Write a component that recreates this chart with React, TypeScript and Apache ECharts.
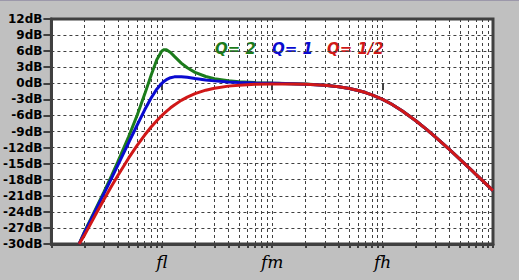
import { useEffect, useRef } from 'react';
import * as echarts from 'echarts';

// Frequencies (Hz) of the sampled points; fl = 100, fm = 1000, fh = 10000
const freqs = [17.8, 20, 25, 30, 35, 40, 50, 60, 70, 80, 90, 100, 105, 110, 120, 130, 150, 170, 200, 250, 300, 400, 500, 700, 1000, 1500, 2000, 3000, 4000, 5000, 6000, 7000, 8000, 10000, 12000, 15000, 20000, 25000, 30000, 40000, 50000, 60000, 70000, 80000, 100000];

// Gain (dB) for each Q
const gainQ2 = [-30, -27.65, -23.6, -20.21, -17.27, -14.64, -10.0, -5.86, -2.02, 1.51, 4.39, 6.02, 6.28, 6.26, 5.74, 5.02, 3.77, 2.89, 2.04, 1.27, 0.87, 0.48, 0.31, 0.14, 0.04, -0.07, -0.15, -0.35, -0.63, -0.96, -1.34, -1.73, -2.15, -3.0, -3.87, -5.12, -6.99, -8.6, -10.0, -12.3, -14.15, -15.68, -17.0, -18.13, -20.04];
const gainQ1 = [-30, -27.79, -23.82, -20.54, -17.74, -15.29, -11.14, -7.74, -4.95, -2.74, -1.1, 0, 0.38, 0.67, 1.04, 1.2, 1.23, 1.11, 0.9, 0.63, 0.45, 0.26, 0.16, 0.07, 0, -0.08, -0.16, -0.36, -0.64, -0.97, -1.34, -1.73, -2.15, -3.01, -3.87, -5.12, -6.99, -8.6, -10.0, -12.3, -14.15, -15.68, -17.0, -18.13, -20.04];
const gainQhalf = [-30, -28.3, -24.61, -21.66, -19.24, -17.21, -13.98, -11.55, -9.66, -8.17, -6.98, -6.02, -5.61, -5.23, -4.58, -4.04, -3.19, -2.58, -1.94, -1.29, -0.92, -0.53, -0.35, -0.2, -0.13, -0.14, -0.19, -0.38, -0.65, -0.97, -1.34, -1.73, -2.15, -3.01, -3.87, -5.12, -6.99, -8.6, -10.0, -12.3, -14.15, -15.68, -17.0, -18.13, -20.04];

const seriesNames = ['Q= 2', 'Q= 1', 'Q= 1/2'];
const seriesColors = ['#1c7c1c', '#0a0ad0', '#d01818'];

// Gridline / tick frequencies (1-2-3-...-9 per decade)
const gridFreqs = [10, 20, 30, 40, 50, 60, 70, 80, 90, 100, 200, 300, 400, 500, 600, 700, 800, 900, 1000, 2000, 3000, 4000, 5000, 6000, 7000, 8000, 9000, 10000, 20000, 30000, 40000, 50000, 60000, 70000, 80000, 90000, 100000];
const decadeTicks = [100, 1000, 10000];
const decadeLabels = ['fl', 'fm', 'fh'];

export default function App() {
  const ref = useRef<HTMLDivElement>(null);
  useEffect(() => {
    document.body.style.margin = '0';
    const chart = echarts.init(ref.current!, null, { renderer: 'svg' });
    const toPairs = (vals: number[]) => freqs.map((f, i) => [f, vals[i]]);
    const dash = { color: '#404040', type: [3, 3] as number[], width: 1 };
    const dark = '#404040';
    chart.setOption({
      animation: false,
      backgroundColor: '#c0c0c0',
      grid: {
        show: true, left: 48, top: 19, right: 26, bottom: 36,
        backgroundColor: '#ffffff', borderColor: dark, borderWidth: 3,
      },
      xAxis: [
        {
          type: 'log', logBase: 10, min: 10, max: 100000, position: 'bottom',
          axisLine: { show: true, onZero: false, lineStyle: { color: dark, width: 3 } },
          axisTick: { show: true, customValues: gridFreqs, length: 4, lineStyle: { color: dark, width: 2 } },
          splitLine: { show: true, lineStyle: dash },
          axisLabel: {
            customValues: decadeTicks,
            formatter: (v: number) => {
              const i = decadeTicks.indexOf(Math.round(v));
              return i >= 0 ? decadeLabels[i] : '';
            },
            color: '#000', fontFamily: 'DejaVu Serif', fontStyle: 'italic', fontSize: 17, margin: 9,
          },
        },
        {
          type: 'log', logBase: 10, min: 10, max: 100000, position: 'bottom',
          axisLine: { show: false },
          axisTick: { show: true, customValues: decadeTicks, length: 7, lineStyle: { color: dark, width: 2 } },
          splitLine: { show: false },
          axisLabel: { show: false },
        },
      ],
      yAxis: {
        type: 'value', min: -30, max: 12, interval: 3,
        axisLine: { show: true, onZero: false, lineStyle: { color: dark, width: 3 } },
        axisTick: { show: true, length: 8, lineStyle: { color: dark, width: 2 } },
        axisLabel: { formatter: (v: number) => `${v}dB`, color: '#000', fontSize: 12, fontWeight: 'bold', fontFamily: 'DejaVu Sans', margin: 9 },
        splitLine: { show: true, lineStyle: dash },
      },
      series: [gainQ2, gainQ1, gainQhalf].map((g, i) => ({
        name: seriesNames[i],
        type: 'line',
        xAxisIndex: 0,
        data: toPairs(g),
        showSymbol: false,
        symbol: 'none',
        smooth: false,
        clip: true,
        lineStyle: { color: seriesColors[i], width: 3 },
      })),
      graphic: [
        { type: 'rect', shape: { x: 0, y: 0, width: 519, height: 1 }, style: { fill: '#9c98aa' } },
        ...seriesNames.map((n, i) => ({
          type: 'text',
          x: [215, 272, 327][i],
          y: 41,
          style: { text: n, fill: seriesColors[i], font: 'italic bold 15px "DejaVu Sans"', verticalAlign: 'top' },
        })),
      ],
    });
    return () => chart.dispose();
  }, []);
  return <div ref={ref} style={{ width: 519, height: 280 }} />;
}
